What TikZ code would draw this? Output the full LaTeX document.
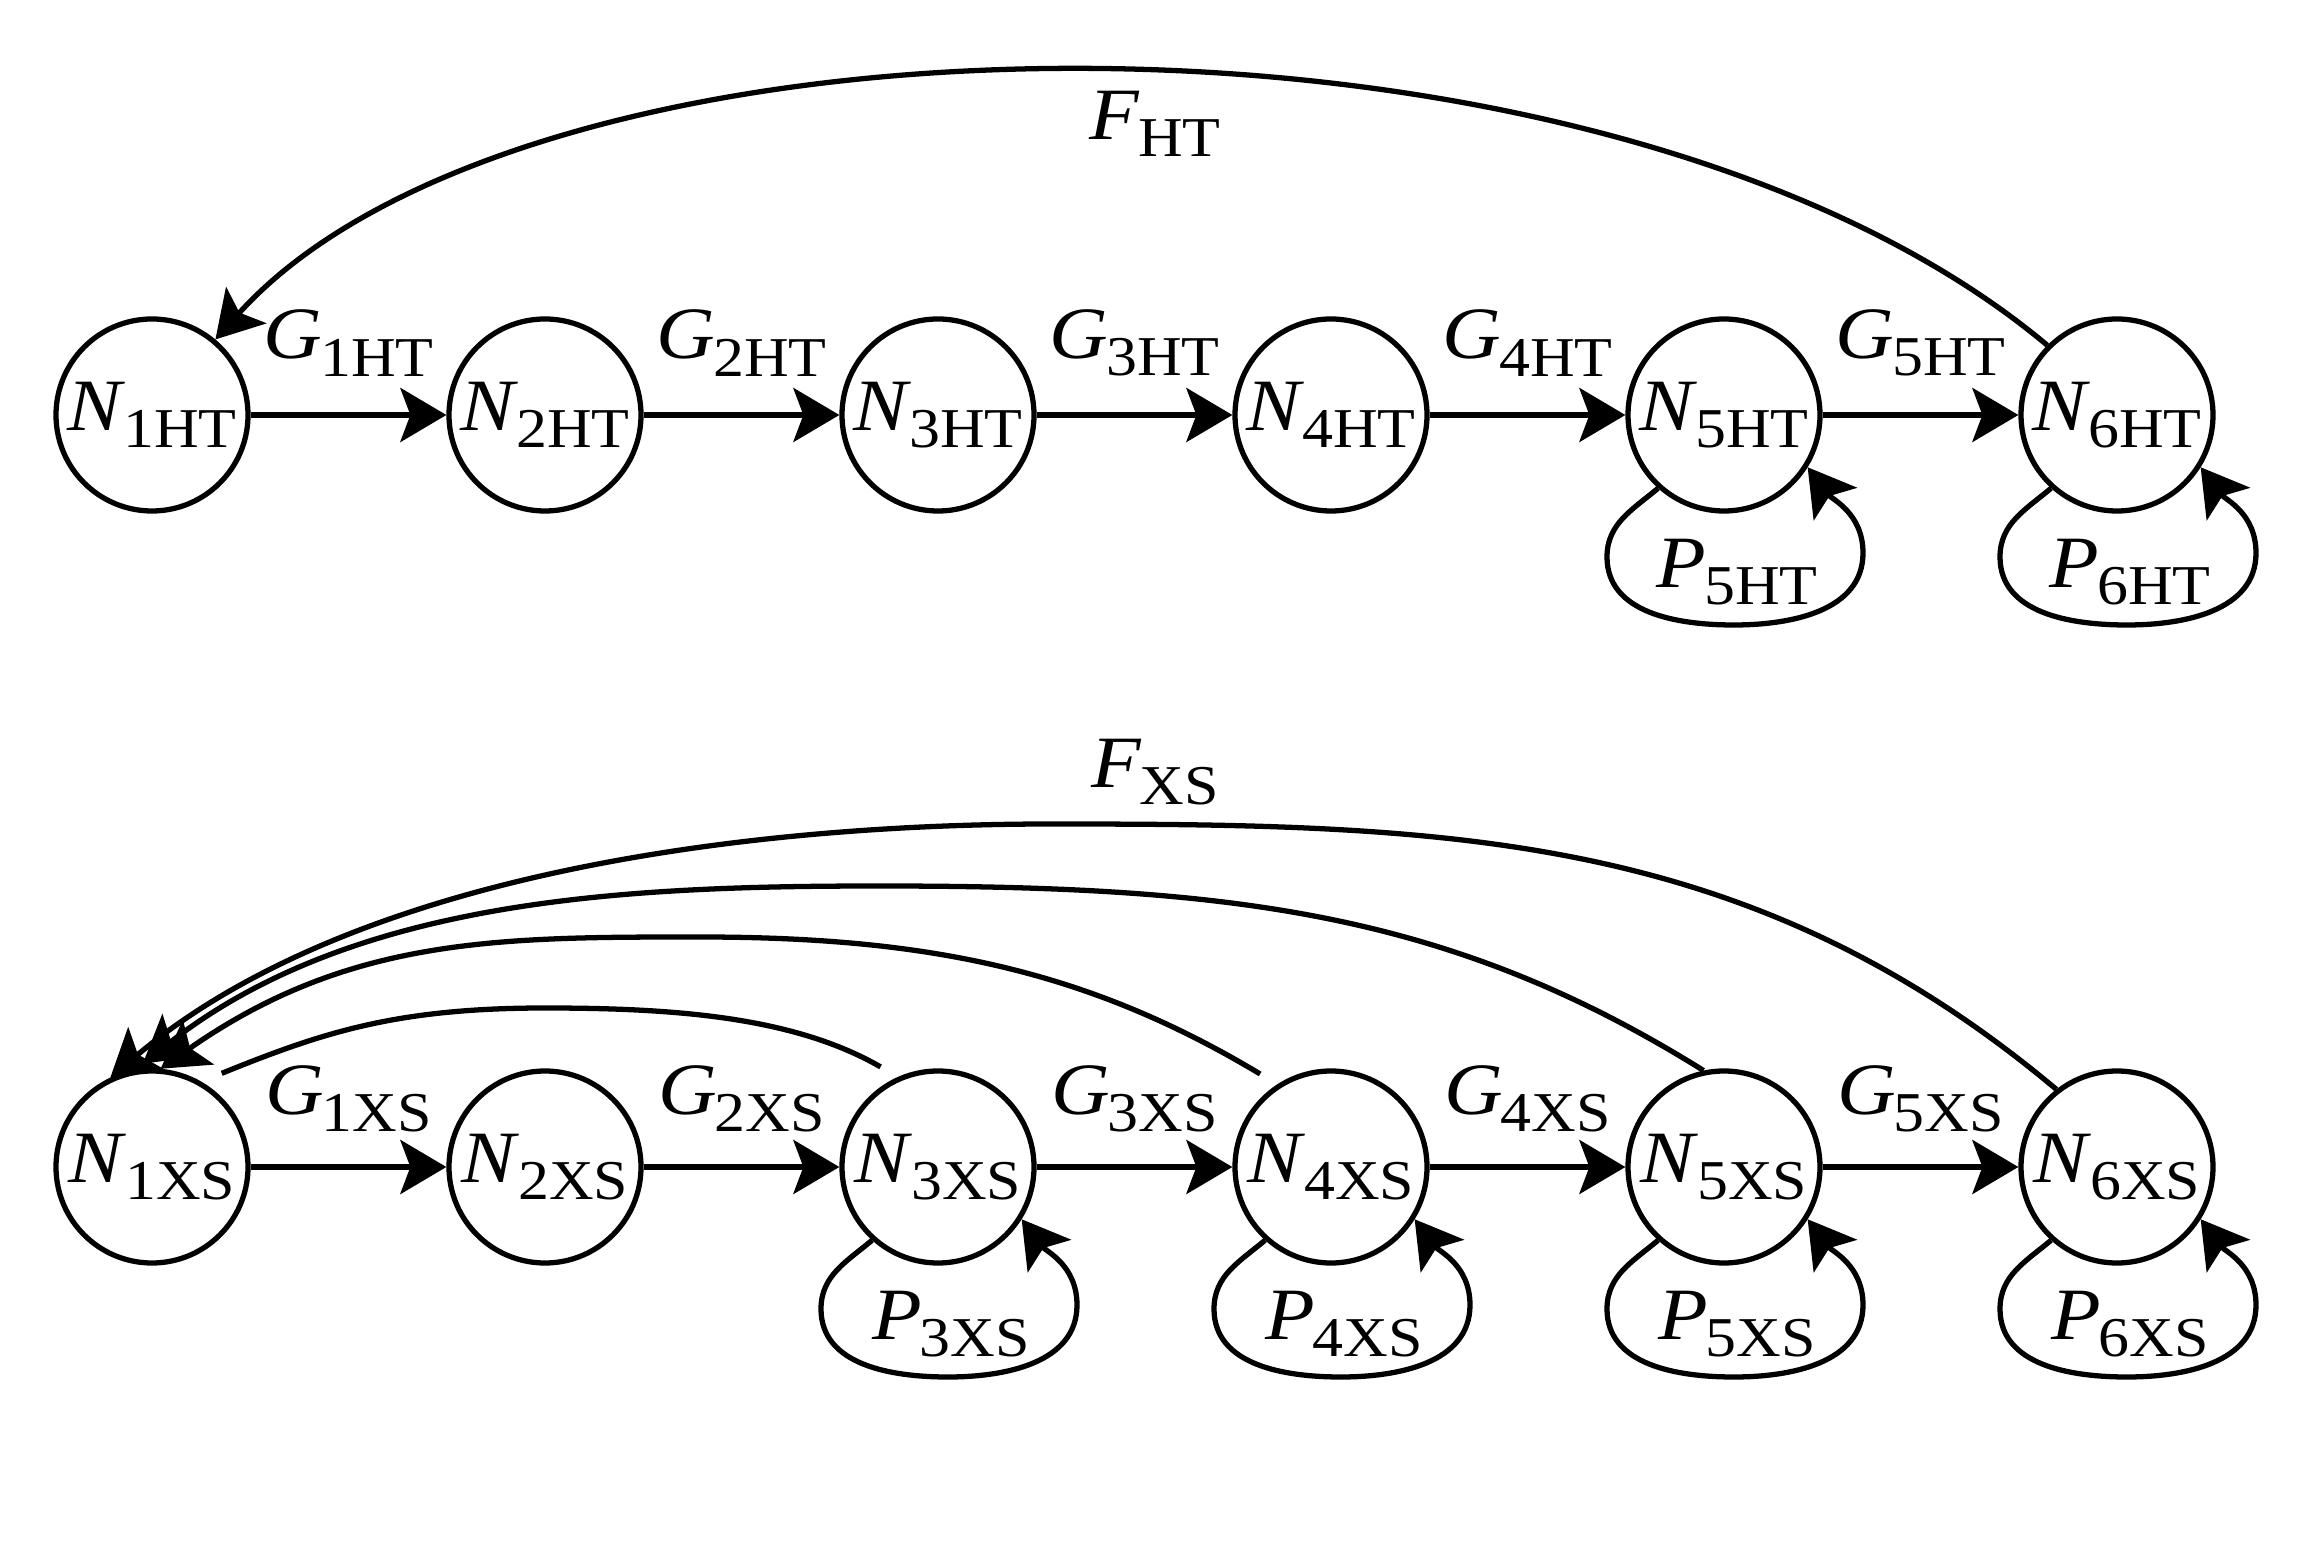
\documentclass[tikz,border=0pt]{standalone}
\usepackage{fontspec}
\setmainfont{Liberation Serif}[FakeStretch=1.1]
\usetikzlibrary{arrows.meta}
\newcommand{\subvar}[2]{\textit{#1}\kern-0.5pt\raisebox{-5pt}{\fontsize{16}{16}\selectfont #2}}
\tikzset{
    state/.style = {draw, circle, line width=1.5pt, minimum size=1.92cm, inner sep=0pt, font=\fontsize{21}{24}\selectfont},
    wire/.style = {line width=1.5pt},
    flow/.style = {wire, -{Stealth[length=4.6mm, width=5.4mm, inset=1mm]}},
    tag/.style = {font=\fontsize{21}{24}\selectfont, inner sep=0pt},
}
\newcommand{\selfloop}[2]{%
    \draw[flow] (#1.-132) to[out=-140,in=90] ([shift={(-1.17,-1.42)}]#1.center)
        to[out=-90,in=180] ([shift={(0.1,-2.1)}]#1.center)
        to[out=0,in=-90] ([shift={(1.39,-1.38)}]#1.center)
        to[out=90,in=-53] (#1.-32);
    \node[tag] at ([shift={(0.13,-1.57)}]#1.center) {#2};}

\begin{document}
\begin{tikzpicture}
\useasboundingbox (0,0) rectangle (23,-15.48);
% HT chain
\node[state] (n1ht) at (1.52,-4.15) {\subvar{N}{1HT}};
\node[state] (n2ht) at (5.45,-4.15) {\subvar{N}{2HT}};
\node[state] (n3ht) at (9.38,-4.15) {\subvar{N}{3HT}};
\node[state] (n4ht) at (13.31,-4.15) {\subvar{N}{4HT}};
\node[state] (n5ht) at (17.24,-4.15) {\subvar{N}{5HT}};
\node[state] (n6ht) at (21.17,-4.15) {\subvar{N}{6HT}};
\draw[flow] (n1ht) -- node[tag, yshift=0.72cm] {\subvar{G}{1HT}} (n2ht);
\draw[flow] (n2ht) -- node[tag, yshift=0.72cm] {\subvar{G}{2HT}} (n3ht);
\draw[flow] (n3ht) -- node[tag, yshift=0.72cm] {\subvar{G}{3HT}} (n4ht);
\draw[flow] (n4ht) -- node[tag, yshift=0.72cm] {\subvar{G}{4HT}} (n5ht);
\draw[flow] (n5ht) -- node[tag, yshift=0.72cm] {\subvar{G}{5HT}} (n6ht);
\selfloop{n5ht}{\subvar{P}{5HT}}
\selfloop{n6ht}{\subvar{P}{6HT}}
\draw[flow] (n6ht.135) .. controls +(140:5.8) and +(48:4.7) .. (n1ht.50);
\node[tag] (fht) at (11.55,-1.24) {\subvar{F}{HT}};
% XS chain
\node[state] (n1xs) at (1.52,-11.67) {\subvar{N}{1XS}};
\node[state] (n2xs) at (5.45,-11.67) {\subvar{N}{2XS}};
\node[state] (n3xs) at (9.38,-11.67) {\subvar{N}{3XS}};
\node[state] (n4xs) at (13.31,-11.67) {\subvar{N}{4XS}};
\node[state] (n5xs) at (17.24,-11.67) {\subvar{N}{5XS}};
\node[state] (n6xs) at (21.17,-11.67) {\subvar{N}{6XS}};
\draw[flow] (n1xs) -- node[tag, yshift=0.68cm] {\subvar{G}{1XS}} (n2xs);
\draw[flow] (n2xs) -- node[tag, yshift=0.68cm] {\subvar{G}{2XS}} (n3xs);
\draw[flow] (n3xs) -- node[tag, yshift=0.68cm] {\subvar{G}{3XS}} (n4xs);
\draw[flow] (n4xs) -- node[tag, yshift=0.68cm] {\subvar{G}{4XS}} (n5xs);
\draw[flow] (n5xs) -- node[tag, yshift=0.68cm] {\subvar{G}{5XS}} (n6xs);
\selfloop{n3xs}{\subvar{P}{3XS}}
\selfloop{n4xs}{\subvar{P}{4XS}}
\selfloop{n5xs}{\subvar{P}{5XS}}
\selfloop{n6xs}{\subvar{P}{6XS}}
\coordinate (top6) at (10.5,-8.24);
\coordinate (top5) at (8.8,-8.86);
\coordinate (top4) at (7.0,-9.37);
\coordinate (top3) at (5.45,-10.08);
\draw[flow] (n6xs.128) .. controls +(140:4.0) and +(4.0,0) .. (top6) .. controls +(-2.5,0) and +(40:3.4) .. (n1xs.115);
\draw[flow, shorten >=0.1cm] (n5xs.102) .. controls +(148:3.0) and +(3.5,0) .. (top5) .. controls +(-2.5,0) and +(38:2.8) .. (n1xs.100);
\draw[flow, shorten <=0.2cm] (n4xs.123) .. controls +(149:2.2) and +(2.3,0) .. (top4) .. controls +(-2.0,0) and +(35:2.3) .. (n1xs.85);
\draw[wire, shorten <=0.2cm, shorten >=0.22cm] (n3xs.114) .. controls +(150:1.2) and +(1.3,0) .. (top3) .. controls +(-1.5,0) and +(22:1.3) .. (n1xs.60);
\node[tag] (fxs) at (11.55,-7.72) {\subvar{F}{XS}};
\end{tikzpicture}
\end{document}
